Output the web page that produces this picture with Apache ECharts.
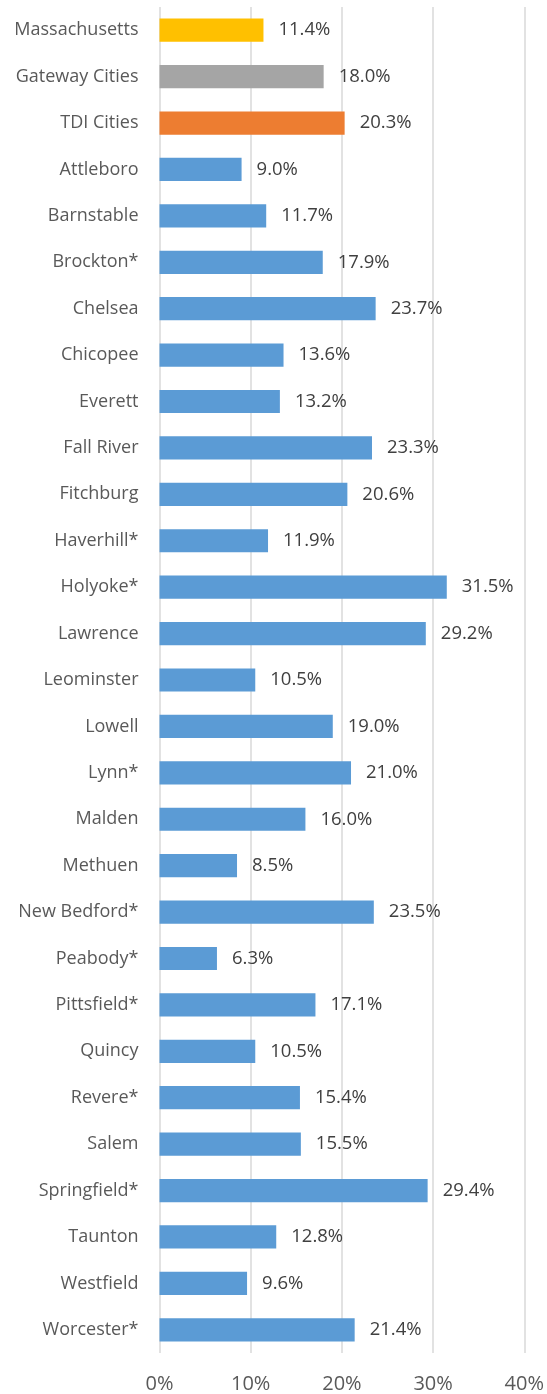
<!DOCTYPE html>
<html>
<head>
<meta charset="utf-8">
<script src="https://cdn.jsdelivr.net/npm/echarts@6/dist/echarts.min.js"></script>
<style>
  html, body { margin: 0; padding: 0; background: #fff; }
  #chart { width: 547px; height: 1394px; }
</style>
</head>
<body>
<div id="chart"></div>
<script>
var categories = [
  "Massachusetts", "Gateway Cities", "TDI Cities", "Attleboro", "Barnstable",
  "Brockton*", "Chelsea", "Chicopee", "Everett", "Fall River", "Fitchburg",
  "Haverhill*", "Holyoke*", "Lawrence", "Leominster", "Lowell", "Lynn*",
  "Malden", "Methuen", "New Bedford*", "Peabody*", "Pittsfield*", "Quincy",
  "Revere*", "Salem", "Springfield*", "Taunton", "Westfield", "Worcester*"
];
var values = [
  11.4, 18.0, 20.3, 9.0, 11.7,
  17.9, 23.7, 13.6, 13.2, 23.3, 20.6,
  11.9, 31.5, 29.2, 10.5, 19.0, 21.0,
  16.0, 8.5, 23.5, 6.3, 17.1, 10.5,
  15.4, 15.5, 29.4, 12.8, 9.6, 21.4
];
var barColors = { "Massachusetts": "#FFC000", "Gateway Cities": "#A5A5A5", "TDI Cities": "#ED7D31" };
var cityColor = "#5B9BD5";
var xTicks = [0, 10, 20, 30, 40];

var chartDom = document.getElementById("chart");
var myChart = echarts.init(chartDom);
var option;

option = {
  animation: false,
  grid: {
    left: 159.5,
    right: 21.5,
    top: 7,
    bottom: 41
  },
  xAxis: {
    type: "value",
    min: xTicks[0],
    max: xTicks[xTicks.length - 1],
    interval: 10,
    axisLine: { show: false },
    axisTick: { show: false },
    axisLabel: {
      color: "#595959",
      fontFamily: "Open Sans",
      fontSize: 20,
      margin: 21,
      formatter: "{value}%"
    },
    splitLine: { lineStyle: { color: "#D9D9D9", width: 1.5 } }
  },
  yAxis: {
    type: "category",
    inverse: true,
    data: categories,
    axisLine: { show: false },
    axisTick: { show: false },
    axisLabel: {
      color: "#595959",
      fontFamily: "Open Sans",
      fontSize: 18,
      margin: 21
    }
  },
  series: [
    {
      type: "bar",
      barWidth: "50%",
      data: values.map(function (v, i) {
        return {
          value: v,
          itemStyle: { color: barColors[categories[i]] || cityColor }
        };
      }),
      label: {
        show: true,
        position: "right",
        distance: 15,
        color: "#404040",
        fontFamily: "Open Sans",
        fontSize: 18.5,
        formatter: function (p) { return p.value.toFixed(1) + "%"; }
      }
    }
  ]
};

option && myChart.setOption(option);
</script>
</body>
</html>
